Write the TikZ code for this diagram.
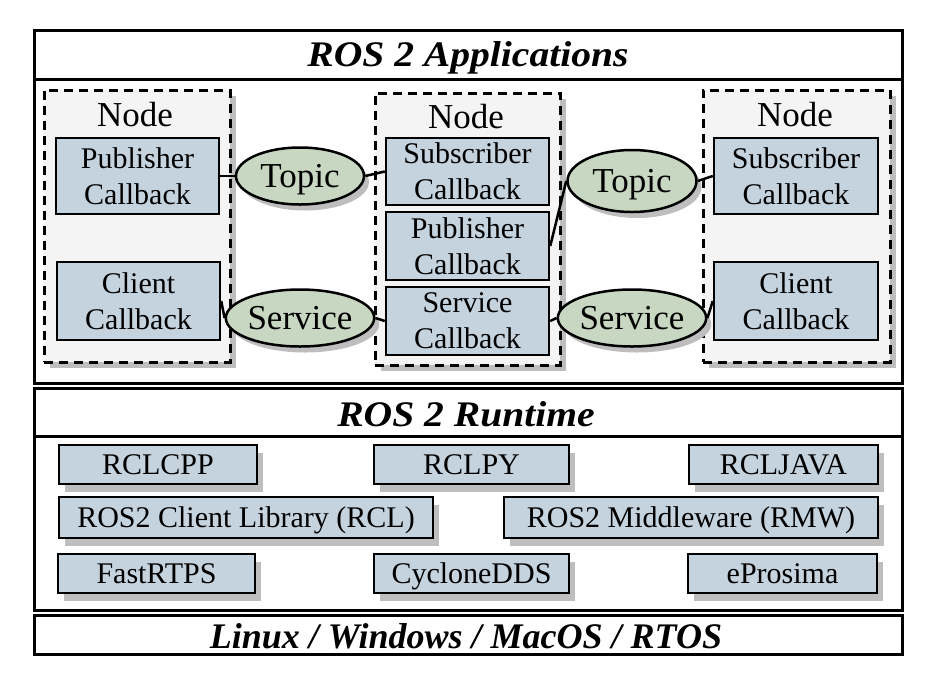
\documentclass[tikz,border=0pt]{standalone}
\usepackage{fontspec}
\setmainfont{Liberation Serif}
\newfontfamily\widefont[FakeStretch=1.1]{Liberation Serif}
\usetikzlibrary{shapes.geometric,shadows}
\definecolor{cbfill}{HTML}{C5D3DE}
\definecolor{topicfill}{HTML}{C8D7C1}
\definecolor{groupfill}{HTML}{F4F4F4}
\definecolor{shadowgray}{HTML}{BEBEBE}

\begin{document}
\begin{tikzpicture}[x=1pt, y=-1pt,
	frame/.style={line width=3},
	title/.style={font=\widefont\fontsize{36}{40}\selectfont\bfseries\itshape},
	ostitle/.style={font=\fontsize{36}{40}\selectfont\bfseries\itshape},
	group/.style={draw, dashed, dash pattern=on 9pt off 6pt, line width=3, fill=groupfill, inner sep=0, general shadow={fill=shadowgray, shadow xshift=6pt, shadow yshift=-6pt}},
	cb/.style={draw, line width=2.5, fill=cbfill, inner sep=0, align=center, font=\fontsize{30}{36}\selectfont},
	chan/.style={ellipse, draw, line width=2.5, fill=topicfill, inner sep=0, text height=23, text depth=0, font=\fontsize{35}{38}\selectfont, general shadow={fill=shadowgray, shadow xshift=5pt, shadow yshift=-6pt}},
	rt/.style={draw, line width=2.5, fill=cbfill, inner sep=0, text height=20, text depth=0, font=\fontsize{30}{32}\selectfont, general shadow={fill=shadowgray, shadow xshift=6pt, shadow yshift=-8pt}},
	link/.style={line width=2.5}]
	\useasboundingbox (0,0) rectangle (926,673);

	\draw[frame] (34,30) rectangle (902,383);
	\draw[frame] (34,79) -- (902,79);
	\node[title] (apptitle) at (468,58) {ROS 2 Applications};

	\node[group, minimum width=186, minimum height=272] (groupA) at (137,226) {};
	\node[group, minimum width=185, minimum height=272] (groupB) at (467.5,229) {};
	\node[group, minimum width=187, minimum height=272] (groupC) at (796.5,226) {};
	\node[font=\fontsize{35}{38}\selectfont] (nodeA) at (135,115) {Node};
	\node[font=\fontsize{35}{38}\selectfont] (nodeB) at (466,117) {Node};
	\node[font=\fontsize{35}{38}\selectfont] (nodeC) at (795,115) {Node};

	\node[cb, minimum width=163, minimum height=76] (pubA) at (137.5,176) {Publisher\\Callback};
	\node[cb, minimum width=163, minimum height=78] (clientA) at (138.5,301) {Client\\Callback};
	\node[cb, minimum width=163, minimum height=67] (subB) at (467.5,171.5) {Subscriber\\Callback};
	\node[cb, minimum width=163, minimum height=68] (pubB) at (467.5,246) {Publisher\\Callback};
	\node[cb, minimum width=163, minimum height=68] (srvB) at (467.5,321) {Service\\Callback};
	\node[cb, minimum width=164, minimum height=76] (subC) at (796,176) {Subscriber\\Callback};
	\node[cb, minimum width=164, minimum height=78] (clientC) at (796,301) {Client\\Callback};

	\node[chan, minimum width=128, minimum height=57] (topicA) at (300,176) {Topic};
	\node[chan, minimum width=131, minimum height=57] (serviceA) at (300,318) {Service};
	\node[chan, minimum width=129, minimum height=62] (topicB) at (632,181) {Topic};
	\node[chan, minimum width=131, minimum height=57] (serviceB) at (632,318) {Service};

	\draw[link] (pubA.east) -- (topicA.west);
	\draw[link] (clientA.east) -- (serviceA.west);
	\draw[link] (topicA.east) -- (subB.west);
	\draw[link] (serviceA.east) -- (srvB.west);
	\draw[link] (pubB.east) -- (topicB.west);
	\draw[link] (srvB.east) -- (serviceB.west);
	\draw[link] (topicB.east) -- (subC.west);
	\draw[link] (serviceB.east) -- (clientC.west);

	\draw[frame] (34,388) rectangle (902,610);
	\draw[frame] (34,436) -- (902,436);
	\node[title] (rttitle) at (466,414) {ROS 2 Runtime};

	\node[rt, minimum width=198, minimum height=39] (rclcpp) at (158,464.5) {RCLCPP};
	\node[rt, minimum width=195, minimum height=39] (rclpy) at (471.5,464.5) {RCLPY};
	\node[rt, minimum width=189, minimum height=39] (rcljava) at (783.5,464.5) {RCLJAVA};
	\node[rt, minimum width=374, minimum height=41] (rcl) at (246,517.5) {ROS2 Client Library (RCL)};
	\node[rt, minimum width=374, minimum height=41] (rmw) at (691,517.5) {ROS2 Middleware (RMW)};
	\node[rt, minimum width=197, minimum height=39] (fastrtps) at (156.5,573.5) {FastRTPS};
	\node[rt, minimum width=195, minimum height=39] (cyclone) at (471.5,573.5) {CycloneDDS};
	\node[rt, minimum width=189, minimum height=39] (eprosima) at (782.5,573.5) {eProsima};

	\draw[frame] (34,615) rectangle (902,654);
	\node[ostitle] (ostitle) at (466,636) {Linux / Windows / MacOS / RTOS};
\end{tikzpicture}
\end{document}
